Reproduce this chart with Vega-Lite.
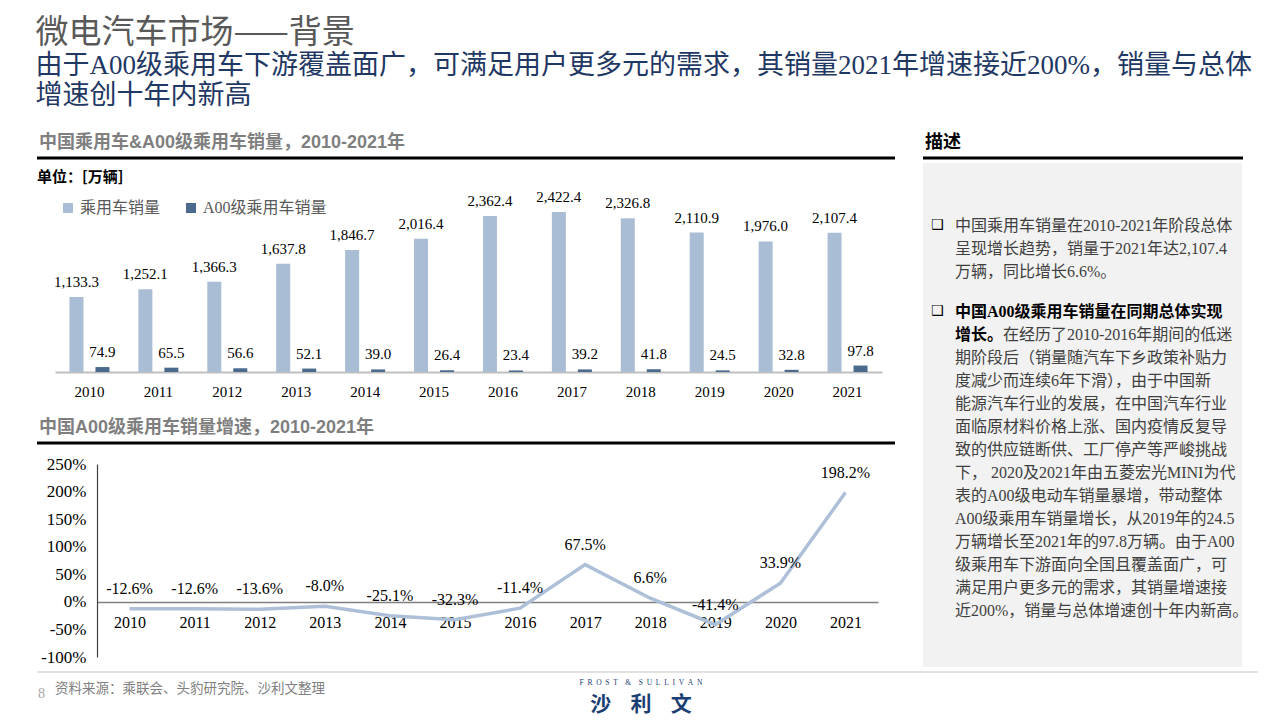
{
  "$schema": "https://vega.github.io/schema/vega-lite/v6.json",
  "background": "white",
  "padding": {"left": 35, "top": 17, "right": 10, "bottom": 4},
  "config": {
    "view": {"stroke": null},
    "locale": {"number": {"decimal": ".", "thousands": ",", "grouping": [3], "currency": ["$", ""], "minus": "-"}}
  },
  "datasets": {
    "sales": [
      {"year": "2010", "series": "乘用车销量", "value": 1133.3},
      {"year": "2011", "series": "乘用车销量", "value": 1252.1},
      {"year": "2012", "series": "乘用车销量", "value": 1366.3},
      {"year": "2013", "series": "乘用车销量", "value": 1637.8},
      {"year": "2014", "series": "乘用车销量", "value": 1846.7},
      {"year": "2015", "series": "乘用车销量", "value": 2016.4},
      {"year": "2016", "series": "乘用车销量", "value": 2362.4},
      {"year": "2017", "series": "乘用车销量", "value": 2422.4},
      {"year": "2018", "series": "乘用车销量", "value": 2326.8},
      {"year": "2019", "series": "乘用车销量", "value": 2110.9},
      {"year": "2020", "series": "乘用车销量", "value": 1976.0},
      {"year": "2021", "series": "乘用车销量", "value": 2107.4},
      {"year": "2010", "series": "A00级乘用车销量", "value": 74.9},
      {"year": "2011", "series": "A00级乘用车销量", "value": 65.5},
      {"year": "2012", "series": "A00级乘用车销量", "value": 56.6},
      {"year": "2013", "series": "A00级乘用车销量", "value": 52.1},
      {"year": "2014", "series": "A00级乘用车销量", "value": 39.0},
      {"year": "2015", "series": "A00级乘用车销量", "value": 26.4},
      {"year": "2016", "series": "A00级乘用车销量", "value": 23.4},
      {"year": "2017", "series": "A00级乘用车销量", "value": 39.2},
      {"year": "2018", "series": "A00级乘用车销量", "value": 41.8},
      {"year": "2019", "series": "A00级乘用车销量", "value": 24.5},
      {"year": "2020", "series": "A00级乘用车销量", "value": 32.8},
      {"year": "2021", "series": "A00级乘用车销量", "value": 97.8}
    ],
    "growth": [
      {"year": "2010", "g": -0.126},
      {"year": "2011", "g": -0.126},
      {"year": "2012", "g": -0.136},
      {"year": "2013", "g": -0.080},
      {"year": "2014", "g": -0.251},
      {"year": "2015", "g": -0.323},
      {"year": "2016", "g": -0.114},
      {"year": "2017", "g": 0.675},
      {"year": "2018", "g": 0.066},
      {"year": "2019", "g": -0.414},
      {"year": "2020", "g": 0.339},
      {"year": "2021", "g": 1.982}
    ]
  },
  "title": {
    "text": "微电汽车市场——背景",
    "subtitle": ["由于A00级乘用车下游覆盖面广，可满足用户更多元的需求，其销量2021年增速接近200%，销量与总体", "增速创十年内新高"],
    "anchor": "start",
    "font": "Noto Sans CJK SC",
    "fontSize": 33,
    "fontWeight": "normal",
    "color": "#595959",
    "subtitleFont": "Liberation Serif, Noto Sans CJK SC",
    "subtitleFontSize": 27,
    "subtitleColor": "#1F3864",
    "subtitleLineHeight": 30,
    "subtitlePadding": 3,
    "offset": 19
  },
  "vconcat": [
    {
      "hconcat": [
        {
          "columns": 1,
          "spacing": 10,
          "concat": [
            {
              "width": 858,
              "height": 30,
              "data": {"values": [{"t": "中国乘用车&A00级乘用车销量，2010-2021年"}]},
              "layer": [
                {
                  "mark": {"type": "text", "align": "left", "baseline": "middle", "font": "Liberation Sans, Noto Sans CJK SC", "fontSize": 18, "fontWeight": "bold", "color": "#7F7F7F"},
                  "encoding": {
                    "x": {"datum": 2, "type": "quantitative", "scale": {"domain": [0, 858], "nice": false, "zero": false}, "axis": null},
                    "y": {"datum": 15, "type": "quantitative", "scale": {"domain": [30, 0], "nice": false}, "axis": null},
                    "text": {"field": "t", "type": "nominal"}
                  }
                },
                {
                  "mark": {"type": "rule", "color": "#000000", "strokeWidth": 3},
                  "encoding": {
                    "y": {"datum": 30, "type": "quantitative", "scale": {"domain": [30, 0], "nice": false}, "axis": null}
                  }
                }
              ]
            },
            {
              "width": 858,
              "height": 185,
              "title": {"text": "单位：[万辆]", "anchor": "start", "font": "Noto Sans CJK SC", "fontSize": 15, "fontWeight": "bold", "color": "#000000", "offset": 2},
              "data": {"name": "sales"},
              "encoding": {
                "x": {
                  "field": "year", "type": "ordinal",
                  "scale": {"range": [18, 845], "paddingInner": 0, "paddingOuter": 0},
                  "axis": {"title": null, "labelAngle": 0, "labelFont": "Liberation Serif", "labelFontSize": 15, "labelColor": "#000000", "ticks": false, "domainColor": "#BFBFBF", "domainWidth": 2, "labelPadding": 12}
                },
                "xOffset": {
                  "field": "series", "type": "nominal",
                  "scale": {"domain": ["乘用车销量", "A00级乘用车销量"], "paddingInner": 0.4615, "paddingOuter": 0.556}
                },
                "y": {"field": "value", "type": "quantitative", "scale": {"domain": [0, 2800], "nice": false}, "axis": null}
              },
              "layer": [
                {
                  "mark": {"type": "bar"},
                  "encoding": {
                    "color": {
                      "field": "series", "type": "nominal",
                      "scale": {"domain": ["乘用车销量", "A00级乘用车销量"], "range": ["#A9BDD4", "#4A6A8E"]},
                      "legend": {"title": null, "orient": "none", "legendX": 23, "legendY": 72, "direction": "horizontal", "padding": 0, "symbolType": "square", "symbolSize": 100, "symbolStrokeWidth": 0, "labelFont": "Liberation Serif, Noto Sans CJK SC", "labelFontSize": 16, "labelColor": "#595959", "labelOffset": 4, "columnPadding": 22}
                    }
                  }
                },
                {
                  "mark": {"type": "text", "dy": -15, "font": "Liberation Serif", "fontSize": 15, "color": "#000000"},
                  "encoding": {"text": {"field": "value", "type": "quantitative", "format": ",.1f"}}
                }
              ]
            },
            {
              "width": 858,
              "height": 34,
              "data": {"values": [{"t": "中国A00级乘用车销量增速，2010-2021年"}]},
              "layer": [
                {
                  "mark": {"type": "text", "align": "left", "baseline": "middle", "font": "Liberation Sans, Noto Sans CJK SC", "fontSize": 18, "fontWeight": "bold", "color": "#7F7F7F"},
                  "encoding": {
                    "x": {"datum": 2, "type": "quantitative", "scale": {"domain": [0, 858], "nice": false, "zero": false}, "axis": null},
                    "y": {"datum": 19, "type": "quantitative", "scale": {"domain": [34, 0], "nice": false}, "axis": null},
                    "text": {"field": "t", "type": "nominal"}
                  }
                },
                {
                  "mark": {"type": "rule", "color": "#000000", "strokeWidth": 3},
                  "encoding": {
                    "y": {"datum": 34, "type": "quantitative", "scale": {"domain": [34, 0], "nice": false}, "axis": null}
                  }
                }
              ]
            },
            {
              "width": 841,
              "height": 193,
              "data": {"name": "growth"},
              "encoding": {
                "x": {
                  "field": "year", "type": "ordinal",
                  "scale": {"type": "point", "padding": 0.5, "range": [60, 841]},
                  "axis": {"title": null, "offset": -55, "labelAngle": 0, "labelFont": "Liberation Serif", "labelFontSize": 16, "labelColor": "#000000", "ticks": false, "domainColor": "#808080", "domainWidth": 1.5, "labelPadding": 12}
                },
                "y": {
                  "field": "g", "type": "quantitative",
                  "scale": {"domain": [-1, 2.5], "nice": false, "zero": false},
                  "axis": {"title": null, "offset": -60, "values": [-1, -0.5, 0, 0.5, 1, 1.5, 2, 2.5], "format": ".0%", "grid": false, "ticks": false, "domainColor": "#404040", "domainWidth": 1.2, "labelFont": "Liberation Serif", "labelFontSize": 17, "labelColor": "#000000", "labelPadding": 11}
                }
              },
              "layer": [
                {"mark": {"type": "line", "color": "#ADC0D8", "strokeWidth": 3.5}},
                {
                  "mark": {"type": "text", "dy": -20, "font": "Liberation Serif", "fontSize": 16, "color": "#000000"},
                  "encoding": {"text": {"field": "g", "type": "quantitative", "format": ".1%"}}
                }
              ]
            }
          ]
        },
        {
          "columns": 1,
          "spacing": 3,
          "concat": [
            {
              "width": 320,
              "height": 30,
              "data": {"values": [{"t": "描述"}]},
              "layer": [
                {
                  "mark": {"type": "text", "align": "left", "baseline": "middle", "font": "Noto Sans CJK SC", "fontSize": 18, "fontWeight": "bold", "color": "#000000"},
                  "encoding": {
                    "x": {"datum": 2, "type": "quantitative", "scale": {"domain": [0, 320], "nice": false, "zero": false}, "axis": null},
                    "y": {"datum": 15, "type": "quantitative", "scale": {"domain": [30, 0], "nice": false}, "axis": null},
                    "text": {"field": "t", "type": "nominal"}
                  }
                },
                {
                  "mark": {"type": "rule", "color": "#000000", "strokeWidth": 3},
                  "encoding": {
                    "y": {"datum": 30, "type": "quantitative", "scale": {"domain": [30, 0], "nice": false}, "axis": null}
                  }
                }
              ]
            },
            {
              "width": 319,
              "height": 504,
              "view": {"fill": "#F2F2F2", "stroke": null},
              "layer": [
                {
                  "data": {"values": [{"p": 1, "t": "❑"}, {"p": 2, "t": "❑"}]},
                  "mark": {"type": "text", "align": "left", "baseline": "top", "font": "DejaVu Sans", "fontSize": 14, "color": "#000000", "dy": 0},
                  "encoding": {
                    "x": {"datum": 8, "type": "quantitative", "scale": {"domain": [0, 319], "nice": false, "zero": false}, "axis": null},
                    "y": {"field": "p", "type": "quantitative", "scale": {"domain": [0.366, 6.226], "reverse": true, "nice": false, "zero": false}, "axis": null},
                    "text": {"field": "t", "type": "nominal"}
                  }
                },
                {
                  "data": {"values": [
                    {"p": 1, "t": "中国乘用车销量在2010-2021年阶段总体\n呈现增长趋势，销量于2021年达2,107.4\n万辆，同比增长6.6%。"},
                    {"p": 2, "t": "\u200b\n\u200b\n期阶段后（销量随汽车下乡政策补贴力\n度减少而连续6年下滑），由于中国新\n能源汽车行业的发展，在中国汽车行业\n面临原材料价格上涨、国内疫情反复导\n致的供应链断供、工厂停产等严峻挑战\n下， 2020及2021年由五菱宏光MINI为代\n表的A00级电动车销量暴增，带动整体\nA00级乘用车销量增长，从2019年的24.5\n万辆增长至2021年的97.8万辆。由于A00\n级乘用车下游面向全国且覆盖面广，可\n满足用户更多元的需求，其销量增速接\n近200%，销量与总体增速创十年内新高。"}
                  ]},
                  "mark": {"type": "text", "align": "left", "baseline": "top", "lineBreak": "\n", "lineHeight": 23, "font": "Liberation Serif, Noto Sans CJK SC", "fontSize": 16, "color": "#404040"},
                  "encoding": {
                    "x": {"datum": 32, "type": "quantitative", "scale": {"domain": [0, 319], "nice": false, "zero": false}, "axis": null},
                    "y": {"field": "p", "type": "quantitative", "scale": {"domain": [0.366, 6.226], "reverse": true, "nice": false, "zero": false}, "axis": null},
                    "text": {"field": "t", "type": "nominal"}
                  }
                },
                {
                  "data": {"values": [{"p": 2, "t": "中国A00级乘用车销量在同期总体实现\n增长。"}]},
                  "mark": {"type": "text", "align": "left", "baseline": "top", "lineBreak": "\n", "lineHeight": 23, "font": "Liberation Serif, Noto Sans CJK SC", "fontSize": 16, "fontWeight": "bold", "color": "#000000"},
                  "encoding": {
                    "x": {"datum": 32, "type": "quantitative", "scale": {"domain": [0, 319], "nice": false, "zero": false}, "axis": null},
                    "y": {"field": "p", "type": "quantitative", "scale": {"domain": [0.366, 6.226], "reverse": true, "nice": false, "zero": false}, "axis": null},
                    "text": {"field": "t", "type": "nominal"}
                  }
                },
                {
                  "data": {"values": [{"p": 2, "t": "\u200b\n在经历了2010-2016年期间的低迷"}]},
                  "mark": {"type": "text", "align": "left", "baseline": "top", "lineBreak": "\n", "lineHeight": 23, "font": "Liberation Serif, Noto Sans CJK SC", "fontSize": 16, "color": "#404040", "dx": 48},
                  "encoding": {
                    "x": {"datum": 32, "type": "quantitative", "scale": {"domain": [0, 319], "nice": false, "zero": false}, "axis": null},
                    "y": {"field": "p", "type": "quantitative", "scale": {"domain": [0.366, 6.226], "reverse": true, "nice": false, "zero": false}, "axis": null},
                    "text": {"field": "t", "type": "nominal"}
                  }
                }
              ]
            }
          ]
        }
      ],
      "spacing": 24
    },
    {
      "width": 1221,
      "height": 45,
      "layer": [
        {
          "data": {"values": [{"t": ""}]},
          "mark": {"type": "rule", "color": "#D9D9D9", "strokeWidth": 1.5},
          "encoding": {
            "y": {"datum": 0, "type": "quantitative", "scale": {"domain": [45, 0], "nice": false}, "axis": null}
          }
        },
        {
          "data": {"values": [{"t": "8"}]},
          "mark": {"type": "text", "align": "left", "baseline": "middle", "font": "Liberation Serif", "fontSize": 14, "color": "#A6A6A6"},
          "encoding": {
            "x": {"datum": 1, "type": "quantitative", "scale": {"domain": [0, 1221], "nice": false, "zero": false}, "axis": null},
            "y": {"datum": 22, "type": "quantitative", "scale": {"domain": [45, 0], "nice": false}, "axis": null},
            "text": {"field": "t", "type": "nominal"}
          }
        },
        {
          "data": {"values": [{"t": "资料来源：乘联会、头豹研究院、沙利文整理"}]},
          "mark": {"type": "text", "align": "left", "baseline": "middle", "font": "Noto Sans CJK SC", "fontSize": 13.5, "color": "#7F7F7F"},
          "encoding": {
            "x": {"datum": 18, "type": "quantitative", "scale": {"domain": [0, 1221], "nice": false, "zero": false}, "axis": null},
            "y": {"datum": 17, "type": "quantitative", "scale": {"domain": [45, 0], "nice": false}, "axis": null},
            "text": {"field": "t", "type": "nominal"}
          }
        },
        {
          "data": {"values": [{"t": "F\u2002R\u2002O\u2002S\u2002T\u2003&\u2003S\u2002U\u2002L\u2002L\u2002I\u2002V\u2002A\u2002N"}]},
          "mark": {"type": "text", "align": "center", "baseline": "middle", "font": "Liberation Serif", "fontSize": 7.5, "color": "#1B3F73"},
          "encoding": {
            "x": {"datum": 604, "type": "quantitative", "scale": {"domain": [0, 1221], "nice": false, "zero": false}, "axis": null},
            "y": {"datum": 11, "type": "quantitative", "scale": {"domain": [45, 0], "nice": false}, "axis": null},
            "text": {"field": "t", "type": "nominal"}
          }
        },
        {
          "data": {"values": [{"t": "沙\u2002\u2005\u2006利\u2002\u2005\u2006文"}]},
          "mark": {"type": "text", "align": "center", "baseline": "middle", "font": "Noto Sans CJK SC", "fontSize": 21, "fontWeight": "bold", "color": "#1B3F73"},
          "encoding": {
            "x": {"datum": 604, "type": "quantitative", "scale": {"domain": [0, 1221], "nice": false, "zero": false}, "axis": null},
            "y": {"datum": 33, "type": "quantitative", "scale": {"domain": [45, 0], "nice": false}, "axis": null},
            "text": {"field": "t", "type": "nominal"}
          }
        }
      ]
    }
  ],
  "spacing": 4
}
